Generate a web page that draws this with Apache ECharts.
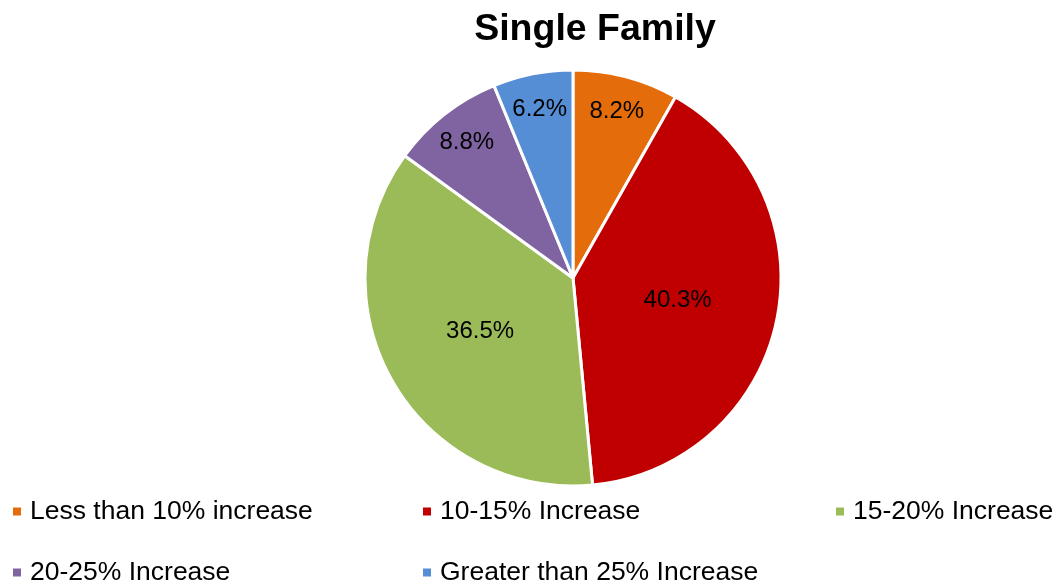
<!DOCTYPE html>
<html><head><meta charset="utf-8">
<script src="https://cdn.jsdelivr.net/npm/echarts@6/dist/echarts.min.js"></script>
<style>html,body{margin:0;padding:0;background:#fff}#c{width:1060px;height:582px}</style>
</head><body><div id="c"></div>
<script>
const title = 'Single Family';
const categories = ['Less than 10% increase','10-15% Increase','15-20% Increase','20-25% Increase','Greater than 25% Increase'];
const values = [8.2, 40.3, 36.5, 8.8, 6.2];
const colors = ['#E46C0A','#C00000','#9BBB59','#8064A2','#558ED5'];
const smallThreshold = 10;

const font = 'Liberation Sans, Arial, sans-serif';
const chart = echarts.init(document.getElementById('c'));
const legendPos = [[6,493],[416,493],[829,493],[6,554],[416,554]];
const legends = categories.map((n,i)=>({
  data:[n], left:legendPos[i][0], top:legendPos[i][1], icon:'rect', itemWidth:10, itemHeight:10, itemGap:0,
  textStyle:{fontFamily:font,fontSize:26.5,color:'#000',padding:[0,0,0,3]}, selectedMode:false
}));
chart.setOption({
  animation:false,
  color:colors,
  title:{text:title,left:590,top:6,textAlign:'center',textStyle:{fontFamily:font,fontSize:37.5,fontWeight:'bold',color:'#000'}},
  legend:legends,
  series:[{
    type:'pie', center:[573,278], radius:[0,208], startAngle:90, clockwise:true,
    itemStyle:{borderColor:'#fff',borderWidth:3},
    label:{show:true,position:'inner',fontFamily:font,fontSize:24,color:'#000',
      formatter:p=>p.value>=smallThreshold?p.value.toFixed(1)+'%':''},
    labelLine:{show:false},
    data:categories.map((n,i)=>({name:n,value:values[i]}))
  },{
    type:'pie', center:[573,278], radius:[130,208], startAngle:90, clockwise:true, silent:true,
    itemStyle:{color:'rgba(0,0,0,0)',borderWidth:0},
    label:{show:true,position:'inner',fontFamily:font,fontSize:24,color:'#000',
      formatter:p=>p.value<smallThreshold?p.value.toFixed(1)+'%':''},
    labelLine:{show:false},
    data:categories.map((n,i)=>({name:n,value:values[i]}))
  }]
});
</script></body></html>
